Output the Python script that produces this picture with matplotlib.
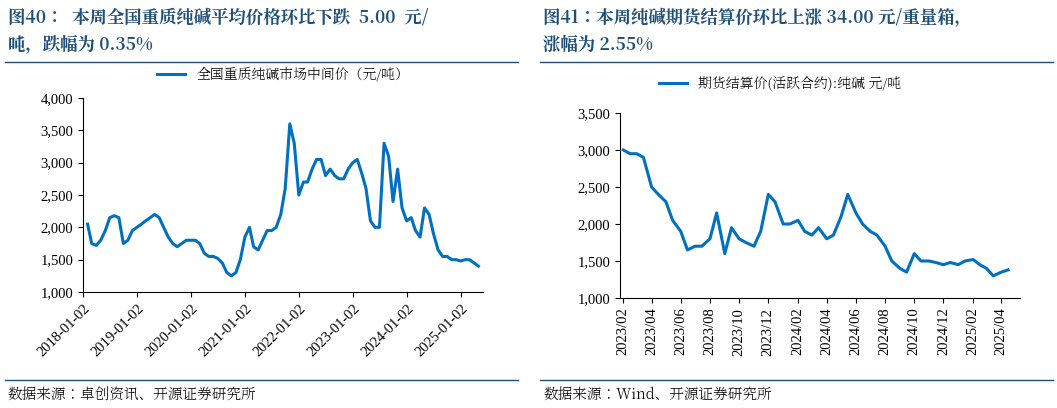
import matplotlib
matplotlib.use("Agg")
import matplotlib.pyplot as plt
import pandas as pd
from matplotlib import font_manager
from matplotlib.ft2font import FT2Font

left_values = [2050,1750,1720,1800,1950,2150,2180,2150,1750,1800,1950,2000,
               2050,2100,2150,2200,2150,2000,1850,1750,1700,1750,1800,1800,
               1800,1750,1600,1550,1550,1520,1450,1300,1250,1300,1500,1850,
               2000,1700,1650,1800,1950,1950,2000,2200,2600,3600,3300,2500,
               2700,2700,2900,3050,3050,2800,2900,2800,2750,2750,2900,3000,
               3050,2850,2600,2100,2000,2000,3300,3100,2400,2900,2300,2100,
               2150,1950,1850,2300,2200,1900,1650,1550,1550,1500,1500,1480,
               1500,1500,1450,1400]
left_dates = pd.date_range("2018-01-02", periods=len(left_values), freq="MS")
left_ticks = [f"{y}-01-02" for y in range(2018, 2026)]

right_values = [3000,2950,2950,2900,2500,2400,2300,2050,1900,1650,1700,1700,
                1800,2150,1600,1950,1800,1750,1700,1900,2400,2300,2000,2000,
                2050,1900,1850,1950,1800,1850,2100,2400,2150,2000,1900,1850,
                1700,1500,1400,1350,1600,1500,1500,1480,1450,1480,1450,1500,
                1520,1450,1400,1300,1350,1380]
right_dates = pd.date_range("2023-02-01", periods=len(right_values), freq="SMS")
right_ticks = [f"{y}/{m:02d}" for y in (2023, 2024, 2025) for m in (2,4,6,8,10,12)
               if not (y == 2025 and m > 4)]

# find a CJK font file that actually has simplified Chinese glyphs
def pick_cjk(bold=False):
    test = "图全质碱跌幅数据来源"
    cands = [f for f in font_manager.fontManager.ttflist if 'CJK' in f.name]
    cands.sort(key=lambda f: (('SC' not in f.name), (f.weight in ('bold', 700)) != bold))
    for f in cands:
        try:
            ft = FT2Font(f.fname)
            if all(ft.get_char_index(ord(c)) for c in test):
                return font_manager.FontProperties(fname=f.fname)
        except Exception:
            pass
    return font_manager.FontProperties(family='Noto Sans CJK SC')

fp = pick_cjk()
fpb = pick_cjk(True)

plt.rcParams['font.family'] = ['Liberation Serif']

W, H = 1057, 408
fig = plt.figure(figsize=(W/100, H/100), dpi=100)
color = '#0070C0'

def fprop(base, size, weight=None):
    p = base.copy()
    p.set_size(size)
    if weight:
        p.set_weight(weight)
    return p

tp = fprop(fpb, 12.5, 'bold')
fig.text(8/W, 1-8/H, "图40：  本周全国重质纯碱平均价格环比下跌  5.00  元/\n吨，跌幅为 0.35%",
         fontproperties=tp, color='#1F4E79', va='top', linespacing=1.5)
fig.text(543/W, 1-8/H, "图41：本周纯碱期货结算价环比上涨 34.00 元/重量箱，\n涨幅为 2.55%",
         fontproperties=tp, color='#1F4E79', va='top', linespacing=1.5)
sp = fprop(fp, 10.5)
fig.text(8/W, 1-395/H, "数据来源：卓创资讯、开源证券研究所", fontproperties=sp, va='center')
fig.text(543/W, 1-395/H, "数据来源：Wind、开源证券研究所", fontproperties=sp, va='center')
for x in (0, 535):
    fig.add_artist(plt.Line2D([(x+5)/W, (x+518)/W], [1-62/H]*2, color='#1F4E79', lw=1))
    fig.add_artist(plt.Line2D([(x+5)/W, (x+518)/W], [1-380/H]*2, color='#1F4E79', lw=1))

def style(ax):
    for s in ('top', 'right'):
        ax.spines[s].set_visible(False)
    ax.tick_params(labelsize=10.5)
    ax.yaxis.set_major_formatter(matplotlib.ticker.FuncFormatter(lambda v, p: f"{int(v):,}"))

lp = fprop(fp, 10)

ax1 = fig.add_axes([83/W, 1-292/H, 400/W, 194/H])
ax1.plot(left_dates, left_values, color=color, lw=2.2, label="全国重质纯碱市场中间价（元/吨）")
ax1.set_ylim(1000, 4000)
ax1.set_xlim(pd.Timestamp("2018-01-01"), pd.Timestamp("2025-06-01"))
ax1.set_xticks(pd.to_datetime(left_ticks))
ax1.set_xticklabels(left_ticks, rotation=45, ha='right', rotation_mode='anchor')
style(ax1)
ax1.legend(loc='lower center', bbox_to_anchor=(0.5, 1.02), frameon=False, prop=lp)

ax2 = fig.add_axes([620/W, 1-298/H, 400/W, 185/H])
ax2.plot(right_dates, right_values, color=color, lw=2.2, label="期货结算价(活跃合约):纯碱 元/吨")
ax2.set_ylim(1000, 3500)
ax2.set_xlim(pd.Timestamp("2023-01-25"), pd.Timestamp("2025-05-10"))
ax2.set_xticks([pd.Timestamp(f"{t.replace('/', '-')}-01") for t in right_ticks])
ax2.set_xticklabels(right_ticks, rotation=90)
style(ax2)
ax2.legend(loc='lower center', bbox_to_anchor=(0.4, 1.05), frameon=False, prop=lp)

fig.savefig("out.png", dpi=100)
